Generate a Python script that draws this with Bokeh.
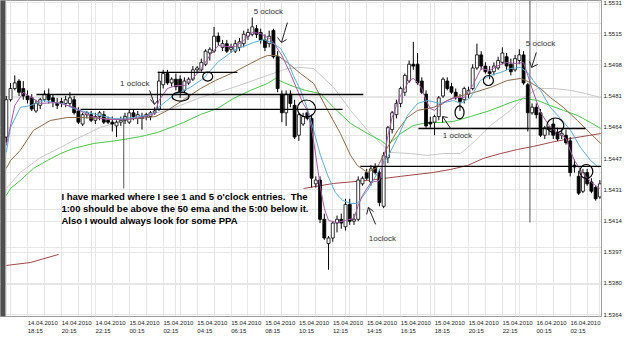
from bokeh.plotting import figure
from bokeh.models import Range1d, FixedTicker, LinearAxis, ColumnDataSource, Grid
from bokeh.core.properties import value
from bokeh.embed import file_html
from bokeh.resources import INLINE

# ---------------- data (15-minute candles, 14.04.2010 17:00 onward) ----------------
candle_open = [1.5459, 1.5479, 1.5485, 1.5489, 1.5485, 1.5481, 1.5480, 1.5473, 1.5476, 1.5479,
               1.5482, 1.5480, 1.5477, 1.5478, 1.5477, 1.5477, 1.5479, 1.5473, 1.5466, 1.5471,
               1.5471, 1.5468, 1.5470, 1.5471, 1.5468, 1.5467, 1.5465, 1.5467, 1.5468, 1.5467,
               1.5472, 1.5469, 1.5470, 1.5470, 1.5470, 1.5472, 1.5474, 1.5487, 1.5493, 1.5488,
               1.5490, 1.5490, 1.5484, 1.5488, 1.5490, 1.5495, 1.5495, 1.5498, 1.5504, 1.5505,
               1.5513, 1.5507, 1.5509, 1.5506, 1.5505, 1.5507, 1.5509, 1.5513, 1.5514, 1.5517,
               1.5515, 1.5511, 1.5509, 1.5516, 1.5502, 1.5482, 1.5472, 1.5482, 1.5476, 1.5460,
               1.5466, 1.5472, 1.5469, 1.5434, 1.5436, 1.5415, 1.5402, 1.5405, 1.5413, 1.5415,
               1.5411, 1.5423, 1.5414, 1.5415, 1.5434, 1.5440, 1.5435, 1.5443, 1.5440, 1.5422,
               1.5448, 1.5463, 1.5471, 1.5477, 1.5483, 1.5489, 1.5498, 1.5498, 1.5489, 1.5482,
               1.5467, 1.5467, 1.5470, 1.5481, 1.5489, 1.5486, 1.5483, 1.5480, 1.5479, 1.5482,
               1.5485, 1.5496, 1.5503, 1.5497, 1.5494, 1.5494, 1.5496, 1.5499, 1.5502, 1.5498,
               1.5495, 1.5500, 1.5503, 1.5487, 1.5472, 1.5475, 1.5472, 1.5460, 1.5463, 1.5466,
               1.5461, 1.5460, 1.5460, 1.5457, 1.5444, 1.5438, 1.5430, 1.5440, 1.5435, 1.5432,
               1.5427]
candle_high = [1.5481, 1.5488, 1.5492, 1.5490, 1.5489, 1.5484, 1.5482, 1.5479, 1.5480, 1.5484,
               1.5485, 1.5482, 1.5480, 1.5480, 1.5481, 1.5483, 1.5481, 1.5475, 1.5472, 1.5473,
               1.5473, 1.5472, 1.5473, 1.5473, 1.5470, 1.5470, 1.5468, 1.5470, 1.5472, 1.5474,
               1.5474, 1.5473, 1.5472, 1.5472, 1.5473, 1.5475, 1.5494, 1.5495, 1.5495, 1.5491,
               1.5493, 1.5492, 1.5491, 1.5491, 1.5497, 1.5497, 1.5501, 1.5506, 1.5507, 1.5518,
               1.5515, 1.5511, 1.5511, 1.5509, 1.5511, 1.5512, 1.5516, 1.5517, 1.5523, 1.5519,
               1.5517, 1.5514, 1.5516, 1.5517, 1.5505, 1.5484, 1.5484, 1.5484, 1.5479, 1.5472,
               1.5472, 1.5474, 1.5471, 1.5438, 1.5438, 1.5418, 1.5406, 1.5414, 1.5417, 1.5418,
               1.5426, 1.5426, 1.5418, 1.5438, 1.5438, 1.5442, 1.5444, 1.5445, 1.5442, 1.5451,
               1.5465, 1.5473, 1.5479, 1.5486, 1.5493, 1.5500, 1.5510, 1.5504, 1.5491, 1.5484,
               1.5470, 1.5471, 1.5481, 1.5491, 1.5491, 1.5488, 1.5485, 1.5482, 1.5486, 1.5486,
               1.5498, 1.5509, 1.5505, 1.5499, 1.5497, 1.5499, 1.5502, 1.5507, 1.5504, 1.5501,
               1.5503, 1.5506, 1.5505, 1.5488, 1.5477, 1.5477, 1.5474, 1.5465, 1.5465, 1.5469,
               1.5464, 1.5463, 1.5463, 1.5459, 1.5447, 1.5441, 1.5442, 1.5442, 1.5437, 1.5433,
               1.5436]
candle_low = [1.5456, 1.5478, 1.5484, 1.5481, 1.5479, 1.5477, 1.5473, 1.5472, 1.5474, 1.5478,
              1.5477, 1.5475, 1.5474, 1.5475, 1.5475, 1.5475, 1.5471, 1.5466, 1.5465, 1.5469,
              1.5467, 1.5466, 1.5468, 1.5466, 1.5466, 1.5462, 1.5459, 1.5465, 1.5466, 1.5466,
              1.5468, 1.5466, 1.5463, 1.5468, 1.5468, 1.5471, 1.5473, 1.5485, 1.5487, 1.5486,
              1.5484, 1.5480, 1.5483, 1.5487, 1.5489, 1.5493, 1.5494, 1.5497, 1.5500, 1.5504,
              1.5508, 1.5505, 1.5504, 1.5504, 1.5504, 1.5505, 1.5507, 1.5511, 1.5513, 1.5512,
              1.5509, 1.5505, 1.5507, 1.5501, 1.5483, 1.5467, 1.5465, 1.5475, 1.5458, 1.5457,
              1.5465, 1.5468, 1.5432, 1.5432, 1.5413, 1.5404, 1.5388, 1.5403, 1.5408, 1.5410,
              1.5409, 1.5412, 1.5412, 1.5414, 1.5433, 1.5436, 1.5433, 1.5439, 1.5422, 1.5421,
              1.5445, 1.5461, 1.5469, 1.5475, 1.5481, 1.5488, 1.5495, 1.5487, 1.5482, 1.5464,
              1.5464, 1.5460, 1.5468, 1.5480, 1.5484, 1.5482, 1.5479, 1.5473, 1.5477, 1.5480,
              1.5484, 1.5495, 1.5495, 1.5493, 1.5490, 1.5492, 1.5495, 1.5498, 1.5495, 1.5492,
              1.5494, 1.5498, 1.5487, 1.5462, 1.5471, 1.5469, 1.5459, 1.5458, 1.5460, 1.5458,
              1.5457, 1.5458, 1.5455, 1.5438, 1.5440, 1.5428, 1.5429, 1.5433, 1.5429, 1.5425,
              1.5426]
candle_close = [1.5479, 1.5485, 1.5488, 1.5483, 1.5481, 1.5479, 1.5474, 1.5477, 1.5479, 1.5482,
                1.5479, 1.5478, 1.5476, 1.5477, 1.5479, 1.5480, 1.5472, 1.5467, 1.5471, 1.5472,
                1.5468, 1.5470, 1.5472, 1.5467, 1.5467, 1.5466, 1.5467, 1.5468, 1.5470, 1.5472,
                1.5470, 1.5471, 1.5469, 1.5471, 1.5472, 1.5473, 1.5489, 1.5493, 1.5488, 1.5490,
                1.5486, 1.5483, 1.5489, 1.5490, 1.5495, 1.5496, 1.5499, 1.5505, 1.5506, 1.5513,
                1.5510, 1.5509, 1.5505, 1.5507, 1.5509, 1.5510, 1.5514, 1.5515, 1.5518, 1.5514,
                1.5511, 1.5507, 1.5513, 1.5502, 1.5485, 1.5472, 1.5482, 1.5477, 1.5459, 1.5471,
                1.5470, 1.5469, 1.5437, 1.5436, 1.5415, 1.5405, 1.5405, 1.5413, 1.5415, 1.5413,
                1.5423, 1.5414, 1.5415, 1.5436, 1.5437, 1.5437, 1.5442, 1.5440, 1.5424, 1.5449,
                1.5464, 1.5472, 1.5477, 1.5485, 1.5492, 1.5498, 1.5497, 1.5488, 1.5483, 1.5465,
                1.5466, 1.5470, 1.5480, 1.5490, 1.5485, 1.5483, 1.5480, 1.5478, 1.5485, 1.5484,
                1.5496, 1.5503, 1.5497, 1.5494, 1.5493, 1.5497, 1.5500, 1.5504, 1.5497, 1.5494,
                1.5501, 1.5503, 1.5488, 1.5472, 1.5475, 1.5471, 1.5460, 1.5464, 1.5464, 1.5460,
                1.5458, 1.5461, 1.5456, 1.5440, 1.5443, 1.5429, 1.5440, 1.5434, 1.5430, 1.5426,
                1.5434]

# time axis labels (candle index where each label sits)
time_label_index = [5, 13, 21, 29, 37, 45, 53, 61, 69, 77, 85, 93, 101, 109, 117, 125, 133]
time_label_dates = ["14.04.2010", "14.04.2010", "14.04.2010", "15.04.2010", "15.04.2010",
                    "15.04.2010", "15.04.2010", "15.04.2010", "15.04.2010", "15.04.2010",
                    "15.04.2010", "15.04.2010", "15.04.2010", "15.04.2010", "15.04.2010",
                    "16.04.2010", "16.04.2010"]
time_label_times = ["18:15", "20:15", "22:15", "00:15", "02:15", "04:15", "06:15", "08:15",
                    "10:15", "12:15", "14:15", "16:15", "18:15", "20:15", "22:15", "00:15", "02:15"]
hour_grid_index = list(range(1, 141, 4))

# price axis
price_ticks = [1.5364, 1.53807, 1.53974, 1.54141, 1.54308, 1.54475, 1.54642, 1.54809,
               1.54976, 1.55143, 1.5531]
price_tick_labels = ["1.5364", "1.5380", "1.5397", "1.5414", "1.5431", "1.5447", "1.5464",
                     "1.5481", "1.5498", "1.5515", "1.5531"]

# moving averages (candle index, price)
ma_purple_x = [0, 2, 4, 6, 8, 12, 16, 20, 24, 28, 32, 35, 36, 38, 40, 42, 44, 46, 48, 50,
               52, 54, 56, 58, 60, 62, 63, 65, 67, 69, 70, 71, 72, 73, 74, 75, 76, 78, 80, 82,
               83, 84, 86, 88, 89, 90, 91, 92, 93, 94, 95, 96, 97, 98, 99, 100, 101, 102, 104, 106,
               108, 110, 112, 114, 116, 118, 120, 122, 123, 124, 126, 128, 130, 132, 133, 134, 136, 138, 140]
ma_purple_y = [1.54545, 1.54759, 1.54829, 1.54802, 1.54770, 1.54775, 1.54749, 1.54700, 1.54684, 1.54684,
               1.54695, 1.54716, 1.54786, 1.54850, 1.54866, 1.54866, 1.54904, 1.54957, 1.55027, 1.55080,
               1.55075, 1.55075, 1.55107, 1.55150, 1.55144, 1.55118, 1.55096, 1.55027, 1.54930, 1.54823,
               1.54770, 1.54733, 1.54636, 1.54492, 1.54331, 1.54208, 1.54144, 1.54133, 1.54144, 1.54155,
               1.54224, 1.54278, 1.54347, 1.54358, 1.54465, 1.54599, 1.54695, 1.54759, 1.54813, 1.54850,
               1.54893, 1.54904, 1.54882, 1.54850, 1.54786, 1.54743, 1.54733, 1.54754, 1.54786, 1.54802,
               1.54802, 1.54866, 1.54957, 1.54947, 1.54973, 1.54989, 1.54984, 1.54989, 1.54920, 1.54850,
               1.54722, 1.54652, 1.54615, 1.54583, 1.54519, 1.54465, 1.54396, 1.54347, 1.54315]

ma_blue_x = [0, 1, 3.3, 5.7, 8.8, 11.1, 13.5, 15.8, 19.2, 22.2, 25.3, 27.6, 30, 33.3, 35.2, 35.9,
             39.4, 43.4, 46.5, 49.8, 53.6, 58.3, 60.7, 63, 64.7, 66.3, 67.7, 69.4, 71, 72.5, 74.1,
             75.8, 77.6, 79.3, 81.2, 82.8, 85.2, 87.5, 89.9, 92.3, 94.6, 97, 99.3, 102.4, 105.5,
             107.1, 109.5, 111.8, 114.2, 116.6, 118.9, 121.3, 122.9, 124.3, 126, 128.3, 130.7,
             133.1, 135.4, 137.8, 139.7]
ma_blue_y = [1.54508, 1.54642, 1.54749, 1.54759, 1.54786, 1.54775, 1.54770, 1.54743, 1.54722, 1.54706,
             1.54690, 1.54690, 1.54695, 1.54706, 1.54722, 1.54749, 1.54813, 1.54856, 1.54904, 1.54989,
             1.55054, 1.55096, 1.55112, 1.55091, 1.55064, 1.55000, 1.54920, 1.54840, 1.54743, 1.54626,
             1.54492, 1.54385, 1.54294, 1.54251, 1.54235, 1.54235, 1.54305, 1.54396, 1.54481, 1.54588,
             1.54706, 1.54770, 1.54786, 1.54770, 1.54786, 1.54770, 1.54802, 1.54893, 1.54920, 1.54936,
             1.54957, 1.54963, 1.54936, 1.54893, 1.54840, 1.54749, 1.54690, 1.54626, 1.54535, 1.54465,
             1.54428]

ma_brown_x = [0, 1, 3.3, 6.4, 10.4, 14.4, 17.5, 22.2, 26.9, 31.7, 35.2, 38, 42.3, 45.8, 49.3,
              53.6, 57.6, 59.9, 61.6, 64, 66.3, 69.4, 72.5, 75.8, 78.8, 81.2, 82.8, 85.2, 87.5,
              89.9, 92.3, 94.6, 97, 100.8, 105.5, 109.5, 114.2, 118.2, 121.3, 123.6, 126, 128.3,
              131.4, 134.7, 137.8, 140.2]
ma_brown_y = [1.54423, 1.54465, 1.54519, 1.54626, 1.54679, 1.54695, 1.54695, 1.54690, 1.54684, 1.54690,
              1.54700, 1.54733, 1.54797, 1.54850, 1.54893, 1.54936, 1.54984, 1.55011, 1.55027, 1.55027,
              1.54989, 1.54930, 1.54877, 1.54733, 1.54609, 1.54492, 1.54438, 1.54401, 1.54428, 1.54535,
              1.54626, 1.54695, 1.54733, 1.54749, 1.54802, 1.54823, 1.54856, 1.54893, 1.54904, 1.54882,
              1.54850, 1.54802, 1.54749, 1.54679, 1.54609, 1.54556]

ma_green_x = [0, 1, 3.3, 6.4, 9.7, 12.8, 15.8, 20.6, 24.6, 27.6, 31.7, 35.7, 41.8, 45.8, 49.8,
              53.6, 57.6, 61.6, 63.5, 65.4, 67.7, 70.6, 74.1, 77.2, 81.2, 85.2, 88.3, 89.9, 93,
              96, 99.3, 102.4, 105.5, 109.5, 114.2, 118.9, 122, 125.3, 128.3, 131.4, 134.7, 137.8, 140.2]
ma_green_y = [1.54278, 1.54315, 1.54358, 1.54423, 1.54465, 1.54502, 1.54529, 1.54556, 1.54567, 1.54577,
              1.54593, 1.54615, 1.54668, 1.54711, 1.54743, 1.54797, 1.54840, 1.54877, 1.54904, 1.54882,
              1.54861, 1.54840, 1.54823, 1.54749, 1.54663, 1.54609, 1.54572, 1.54545, 1.54609, 1.54652,
              1.54668, 1.54668, 1.54674, 1.54700, 1.54733, 1.54775, 1.54797, 1.54786, 1.54759, 1.54733,
              1.54706, 1.54668, 1.54636]

ma_gray_x = [0, 3.3, 8.1, 12.8, 16.8, 22.2, 30, 38, 45.8, 53.6, 61.6, 66.3, 69.4, 72.5, 77.2,
             81.2, 85.2, 88.3, 90.6, 95.3, 99.3, 103.1, 107.1, 110.7, 114.2, 118.9, 122, 125.3,
             129.1, 133.1, 136.6, 140.2]
ma_gray_y = [1.54315, 1.54401, 1.54481, 1.54535, 1.54583, 1.54642, 1.54695, 1.54733, 1.54802, 1.54856,
             1.54920, 1.54957, 1.54963, 1.54957, 1.54856, 1.54733, 1.54626, 1.54556, 1.54508, 1.54502,
             1.54492, 1.54502, 1.54502, 1.54572, 1.54652, 1.54733, 1.54802, 1.54850, 1.54850, 1.54840,
             1.54823, 1.54802]

ma_red_left_x = [0, 5.7, 12.3]
ma_red_left_y = [1.53903, 1.53919, 1.53962]
ma_red_right_x = [70.1, 77.2, 85.2, 93, 100.8, 104.8, 108.8, 112.5, 116.6, 120.6, 124.3, 128.3, 133.1, 140.2]
ma_red_right_y = [1.54315, 1.54342, 1.54358, 1.54380, 1.54401, 1.54417, 1.54438, 1.54476, 1.54502,
                  1.54524, 1.54540, 1.54561, 1.54583, 1.54609]

# hand-drawn annotations (candle index, price)
hline_x0 = [7.1, 17.5, 35.7, 97.2, 83.5]
hline_x1 = [84.2, 79.3, 54.5, 136.6, 140.4]
hline_price = [1.54818, 1.54738, 1.54936, 1.54636, 1.54433]

vline_x = [27.7, 123.5]
vline_top = [1.54706, 1.55321]
vline_bottom = [1.54315, 1.54133]

circle_x = [41.1, 47.5, 70.8, 106.9, 113.7, 129.5, 136.8]
circle_price = [1.54807, 1.54914, 1.54743, 1.54722, 1.54893, 1.54652, 1.54406]

note_x = [30.3, 61.8, 88.7, 106.4, 126.0]
note_price = [1.54877, 1.55262, 1.54048, 1.54599, 1.55091]
note_text = ["1 oclock", "5 oclock", "1oclock", "1 oclock", "5 oclock"]

arrow_xs = [[33.8, 34.95], [34.0, 34.95, 35.7],
            [66.3, 65.6, 64.9], [63.96, 64.9, 66.1],
            [87.1, 85.4], [85.0, 85.4, 86.6],
            [104.8, 102.9], [102.9, 102.9, 104.1],
            [125.0, 123.9], [123.4, 123.9, 125.3]]
arrow_ys = [[1.54840, 1.54765], [1.54791, 1.54765, 1.54786],
            [1.55203, 1.55150, 1.55096], [1.55123, 1.55096, 1.55112],
            [1.54123, 1.54214], [1.54176, 1.54214, 1.54192],
            [1.54636, 1.54700], [1.54668, 1.54700, 1.54695],
            [1.55043, 1.54963], [1.54995, 1.54963, 1.54979]]

comment_lines = ["I have marked where I see 1 and 5 o'clock entries.\u00a0 The",
                 "1:00 should be above the 50 ema and the 5:00 below it.",
                 "Also I would always look for some PPA"]
comment_x = 13.0
comment_price = [1.54272, 1.54208, 1.54144]

# ---------------- figure ----------------
FONT = "Liberation Sans"
X0 = -1.37   # left edge of the plotting area (includes the dark window border)
p = figure(width=625, height=339, output_backend="svg", toolbar_location=None,
           x_range=Range1d(X0, 140.38), y_range=Range1d(1.53630, 1.55321),
           x_axis_location=None, y_axis_location=None,
           min_border_left=0, min_border_right=24, min_border_top=0, min_border_bottom=23,
           background_fill_color="white", border_fill_color="white",
           outline_line_color="#9a9a9a")

p.add_layout(Grid(dimension=0, ticker=FixedTicker(ticks=hour_grid_index),
                  grid_line_color="#e6e6e6"))
p.add_layout(Grid(dimension=1, ticker=FixedTicker(ticks=price_ticks),
                  grid_line_color="#e6e6e6"))

# dark window border on the left
p.quad(left=[X0], right=[-0.19], bottom=[1.53630], top=[1.55321],
       fill_color="#4f4f4f", line_color=None)

nbsp = "\u00a0" * 9
x_label_ticks = [i + 3.6 for i in time_label_index]
x_overrides = {t: d + "\n" + tm + nbsp
               for t, d, tm in zip(x_label_ticks, time_label_dates, time_label_times)}
xaxis = LinearAxis(ticker=FixedTicker(ticks=x_label_ticks), major_label_overrides=x_overrides,
                   major_tick_line_color=None, minor_tick_line_color=None,
                   axis_line_color="#9a9a9a", axis_line_dash="dotted",
                   major_label_text_font=FONT, major_label_text_font_size="6px",
                   major_label_text_color="#222222", major_label_text_line_height=1.45,
                   major_label_standoff=3, major_tick_out=0)
p.add_layout(xaxis, "below")

y_overrides = {t: lab for t, lab in zip(price_ticks, price_tick_labels)}
yaxis = LinearAxis(ticker=FixedTicker(ticks=price_ticks), major_label_overrides=y_overrides,
                   major_tick_line_color=None, minor_tick_line_color=None,
                   axis_line_color="#a0a0a0",
                   major_label_text_font=FONT, major_label_text_font_size="6px",
                   major_label_text_color="#222222", major_label_standoff=2, major_tick_out=0)
p.add_layout(yaxis, "right")

# candles
idx = list(range(len(candle_open)))
src = ColumnDataSource(dict(
    x=idx, h=candle_high, l=candle_low,
    top=[max(o, c) for o, c in zip(candle_open, candle_close)],
    bottom=[min(o, c) for o, c in zip(candle_open, candle_close)],
    fill=["white" if c >= o else "black" for o, c in zip(candle_open, candle_close)]))

# slow moving averages behind the candles
p.line(ma_red_left_x, ma_red_left_y, line_color="#a04848", line_width=1)
p.line(ma_red_right_x, ma_red_right_y, line_color="#a04848", line_width=1)
p.line(ma_gray_x, ma_gray_y, line_color="#c8c8c8", line_width=1)
p.line(ma_green_x, ma_green_y, line_color="#46c846", line_width=1)

p.segment(x0="x", y0="h", x1="x", y1="l", source=src, line_color="black", line_width=1)
p.vbar(x="x", width=0.7, top="top", bottom="bottom", fill_color="fill",
       line_color="black", line_width=0.8, source=src)

p.line(ma_brown_x, ma_brown_y, line_color="#8c6a46", line_width=1)
p.line(ma_blue_x, ma_blue_y, line_color="#5aaed4", line_width=1)
p.line(ma_purple_x, ma_purple_y, line_color="#a45aa8", line_width=1)

# annotations
p.segment(x0=hline_x0, y0=hline_price, x1=hline_x1, y1=hline_price,
          line_color="black", line_width=1.3)
p.segment(x0=vline_x, y0=vline_top, x1=vline_x, y1=vline_bottom,
          line_color="#555555", line_width=1)
p.ellipse(x=circle_x, y=circle_price, width=[17, 10, 18, 9, 10, 17, 13],
          height=[9, 9, 17, 13, 10, 15, 14], width_units="screen", height_units="screen",
          fill_color=None, line_color="black", line_width=1.2)
p.multi_line(xs=arrow_xs, ys=arrow_ys, line_color="#222222", line_width=1)
p.text(x=note_x, y=note_price, text=note_text, text_font=value(FONT),
       text_font_size="8px", text_color="#333333", text_align="center",
       text_baseline="middle")
p.text(x=[comment_x] * 3, y=comment_price, text=comment_lines, text_font=value(FONT),
       text_font_size="9.5px", text_font_style="bold", text_color="black",
       text_align="left", text_baseline="middle")

open("out.html", "w").write(file_html(p, INLINE))
